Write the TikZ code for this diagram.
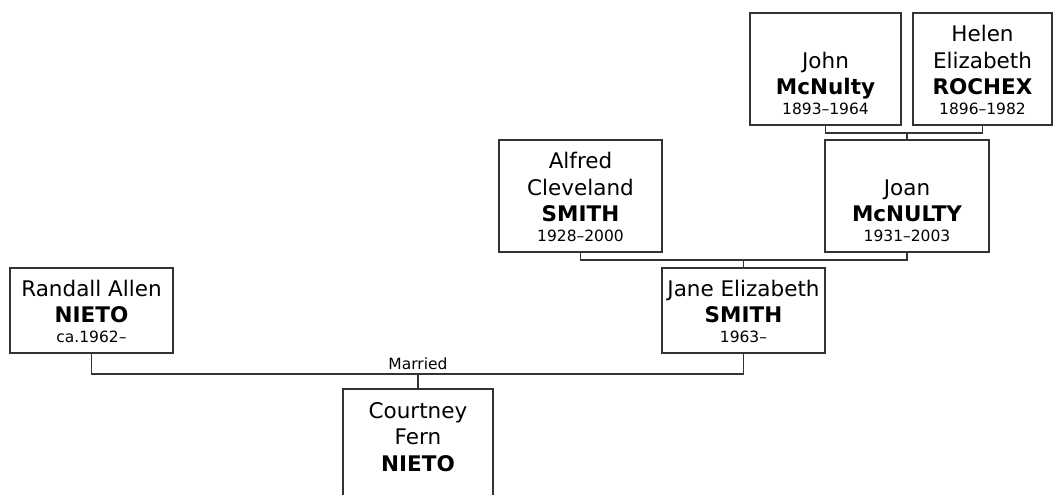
\documentclass[tikz,border=0pt]{standalone}
\usepackage{fontspec}
\setmainfont{DejaVu Sans}
\usepackage{tikz}
\usetikzlibrary{positioning}
\usepackage{xcolor}
\definecolor{boxline}{RGB}{51, 51, 51}
\newcommand{\personbox}[3]{\parbox[c][#2pt][b]{#1pt}{\centering #3\vspace*{10pt}}}
\newcommand{\pname}[1]{{\fontsize{21.5}{26.5}\selectfont #1\par}}
\newcommand{\psur}[1]{{\fontsize{21.5}{26.5}\selectfont\bfseries #1\par}}
\newcommand{\pdates}[1]{{\fontsize{15.5}{20}\selectfont #1\par}}
\tikzset{
  person/.style={draw=boxline, line width=1.2pt, fill=white, inner sep=0pt, outer sep=0pt},
  link/.style={draw=boxline, line width=1.2pt},
  tag/.style={font=\fontsize{15.5}{18}\selectfont, anchor=base, inner sep=0pt}
}

\begin{document}
\begin{tikzpicture}[x=1pt, y=-1pt]
  % Family tree: Courtney Fern NIETO and her ancestors
  \useasboundingbox (0,0) rectangle (1053,495);

  \node[person] (john) at (825.5,69) {\personbox{151}{112}{\pname{John}\psur{McNulty}\pdates{1893–1964}}};
  \node[person] (helen) at (982.5,69) {\personbox{139}{112}{\pname{Helen}\pname{Elizabeth}\psur{ROCHEX}\pdates{1896–1982}}};

  \node[person] (alfred) at (580.5,196) {\personbox{163}{112}{\pname{Alfred}\pname{Cleveland}\psur{SMITH}\pdates{1928–2000}}};
  \node[person] (joan) at (907,196) {\personbox{164}{112}{\pname{Joan}\psur{McNULTY}\pdates{1931–2003}}};

  \node[person] (randall) at (91.5,310.5) {\personbox{163}{85}{\pname{Randall Allen}\psur{NIETO}\pdates{ca.1962–}}};
  \node[person] (jane) at (743.5,310.5) {\personbox{163}{85}{\pname{Jane Elizabeth}\psur{SMITH}\pdates{1963–}}};

  \node[person] (courtney) at (418,445) {\personbox{150}{112}{\pname{Courtney}\pname{Fern}\psur{NIETO}\pdates{\mbox{}}}};

  \coordinate (jnup) at ([yshift=7pt]joan.north);
  \draw[link] (john.south) |- (jnup) -| (helen.south);
  \draw[link] (jnup) -- (joan.north);

  \coordinate (jaup) at ([yshift=8pt]jane.north);
  \draw[link] (alfred.south) |- (jaup) -| (joan.south);
  \draw[link] (jaup) -- (jane.north);

  \coordinate (mar) at ([yshift=15pt]courtney.north);
  \draw[link] (randall.south) |- (mar) -| (jane.south);
  \draw[link] (mar) -- (courtney.north);
  \node[tag] (married) at ([yshift=4.7pt]mar) {Married};
\end{tikzpicture}
\end{document}
